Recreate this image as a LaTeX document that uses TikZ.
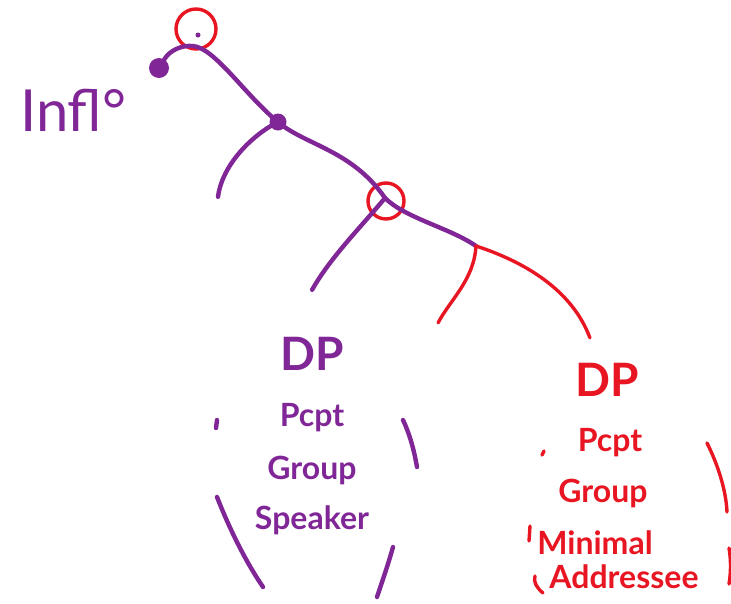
\documentclass[tikz,border=0pt]{standalone}
\usepackage{fontspec}
\setmainfont{Lato}
\definecolor{pur}{RGB}{128,38,150}
\definecolor{rd}{RGB}{232,22,34}
\begin{document}
\begin{tikzpicture}[x=1pt,y=-1pt,
  pline/.style={draw=pur,line width=4.4pt,line cap=round},
  rline/.style={draw=rd,line width=3.4pt,line cap=round},
  pt/.style={inner sep=0pt,minimum size=0pt},
  blob/.style={circle,fill=pur,inner sep=0pt,minimum size=#1},
  ptext/.style={text=pur,font=\bfseries\fontsize{32}{34}\selectfont,inner sep=0pt},
  rtext/.style={text=rd,font=\bfseries\fontsize{32}{34}\selectfont,inner sep=0pt},
  ring/.style={draw=rd,line width=3.4pt,circle,inner sep=0pt,minimum size=#1}]
\useasboundingbox (0,0) rectangle (731,603);
% tree points
\node[pt] (top) at (193,46) {};
\node[ring=40pt] (topring) at (196,29) {};
\node[blob=5pt] (topdot) at (198,35) {};
\node[blob=20pt] (infl) at (159,68) {};
\node[blob=17pt] (n1) at (278,122) {};
\node[pt] (n1L) at (218,197) {};
\node[pt] (n2) at (385,198) {};
\node[ring=36pt] (n2ring) at (386,201) {};
\node[pt] (n2L) at (312,290) {};
\node[pt] (n3) at (476,246) {};
\node[pt] (n3L) at (438,323) {};
\node[pt] (n3R) at (590,338) {};
% connectors
\draw[pline] (infl) .. controls (170,50) and (182,45) .. (top.center);
\draw[pline] (top.center) .. controls (215,48) and (245,95) .. (n1.center);
\draw[pline] (n1.center) .. controls (252,135) and (222,165) .. (n1L);
\draw[pline] (n1.center) .. controls (305,145) and (352,150) .. (n2.center);
\draw[pline] (n2.center) .. controls (360,228) and (330,258) .. (n2L);
\draw[pline] (n2.center) .. controls (405,218) and (450,228) .. (n3.center);
\draw[rline] (n3.center) .. controls (474,280) and (450,300) .. (n3L);
\draw[rline] (n3.center) .. controls (525,262) and (572,290) .. (n3R);
% labels
\node[text=pur,font=\fontsize{58}{60}\selectfont,inner sep=0pt,anchor=west] (inflt) at (20,110) {Infl°};
\node[ptext,font=\bfseries\fontsize{46}{48}\selectfont] (dp1) at (312,354) {DP};
\node[ptext] (f11) at (312,418) {Pcpt};
\node[ptext] (f12) at (312,470) {Group};
\node[ptext] (f13) at (312,520) {Speaker};
\node[rtext,font=\bfseries\fontsize{46}{48}\selectfont] (dp2) at (607,380) {DP};
\node[rtext] (f21) at (610,443) {Pcpt};
\node[rtext] (f22) at (603,493) {Group};
\node[rtext] (f23) at (595,543) {Minimal};
\node[rtext] (f24) at (624,577) {Addressee};
% brackets (purple)
\draw[pline] (217,420) -- (216,428);
\draw[pline] (217,497) .. controls (232,535) and (248,565) .. (263,587);
\draw[pline] (403,420) .. controls (410,435) and (414,450) .. (417,467);
\draw[pline] (393,547) .. controls (388,565) and (382,582) .. (377,597);
% brackets (red)
\draw[rline] (544,451) -- (542,455);
\draw[rline] (530,526) -- (529,541);
\draw[rline] (535,576) .. controls (533,582) and (537,588) .. (543,593);
\draw[rline] (707,443) .. controls (718,465) and (726,490) .. (727,512);
\draw[rline] (729,548) .. controls (731,560) and (731,572) .. (729,584);
\end{tikzpicture}
\end{document}
